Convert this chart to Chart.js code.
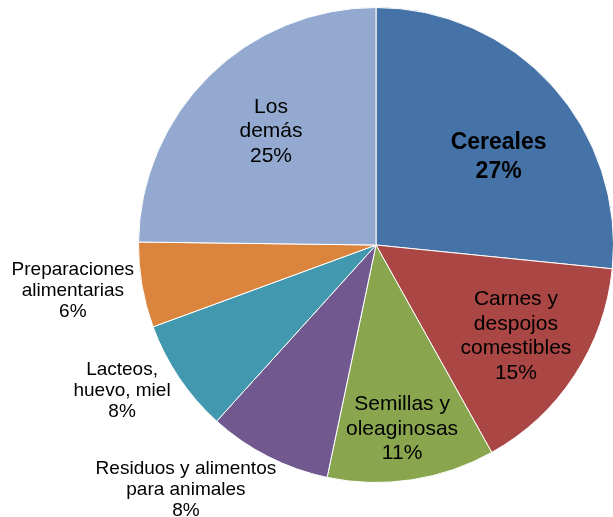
<!DOCTYPE html>
<html>
<head>
<meta charset="utf-8">
<script src="https://cdn.jsdelivr.net/npm/chart.js@4/dist/chart.umd.min.js"></script>
<style>
  html, body { margin: 0; padding: 0; background: #fff; overflow: hidden; }
  .wrap { position: relative; width: 620px; height: 517px; }
</style>
</head>
<body>
<div class="wrap"><canvas id="pie"></canvas></div>
<script>
// datos (porcentajes)
const categorias = [
  ["Cereales"],
  ["Carnes y", "despojos", "comestibles"],
  ["Semillas y", "oleaginosas"],
  ["Residuos y alimentos", "para animales"],
  ["Lacteos,", "huevo, miel"],
  ["Preparaciones", "alimentarias"],
  ["Los", "demás"]
];
const valores = [26.6, 15.3, 11.4, 8.4, 7.7, 5.8, 24.8];
const colores = ["#4572A7", "#AA4643", "#89A54E", "#71588F", "#4198AF", "#DB843D", "#93A9CF"];

// posicion de cada etiqueta: factor de radio y ajuste de angulo (grados)
const etiquetaPos = [
  { r: 0.64, da: 5.9, inside: true, bold: true },
  { r: 0.70, da: -0.6, inside: true },
  { r: 0.775, da: 0.5, inside: true },
  { r: 1.30, da: 11.0, inside: false },
  { r: 1.23, da: 4.4, inside: false },
  { r: 1.29, da: 1.4, inside: false },
  { r: 0.655, da: 2.2, inside: true }
];

const total = valores.reduce((a, b) => a + b, 0);

const labelsPlugin = {
  id: "pieLabels",
  afterDatasetsDraw(chart) {
    const ctx = chart.ctx;
    const meta = chart.getDatasetMeta(0);
    meta.data.forEach((arc, i) => {
      const pos = etiquetaPos[i];
      const mid = (arc.startAngle + arc.endAngle) / 2 + pos.da * Math.PI / 180;
      const R = arc.outerRadius;
      const cx = arc.x + Math.cos(mid) * R * pos.r;
      const cy = arc.y + Math.sin(mid) * R * pos.r + 1.5;
      const pct = Math.round(valores[i] / total * 100) + "%";
      const lines = categorias[i].concat([pct]);
      let size, lh;
      if (pos.bold) { size = 23; lh = 29; }
      else if (pos.inside) { size = 21; lh = 24.5; }
      else { size = 19; lh = 21; }
      ctx.save();
      ctx.fillStyle = "#000";
      ctx.textAlign = "center";
      ctx.textBaseline = "middle";
      ctx.font = (pos.bold ? "bold " : "") + size + "px 'Liberation Sans', Arial, sans-serif";
      const top = cy - (lines.length - 1) * lh / 2;
      lines.forEach((t, k) => ctx.fillText(t, cx, top + k * lh));
      ctx.restore();
    });
  }
};

new Chart(document.getElementById("pie"), {
  type: "pie",
  data: {
    labels: categorias.map(c => c.join(" ")),
    datasets: [{
      data: valores,
      backgroundColor: colores,
      borderColor: "#ffffff",
      borderWidth: 1
    }]
  },
  options: {
    responsive: true,
    maintainAspectRatio: false,
    animation: false,
    layout: { padding: { left: 138, right: 6, top: 7, bottom: 34 } },
    plugins: {
      legend: { display: false },
      tooltip: { enabled: false }
    }
  },
  plugins: [labelsPlugin]
});
</script>
</body>
</html>
